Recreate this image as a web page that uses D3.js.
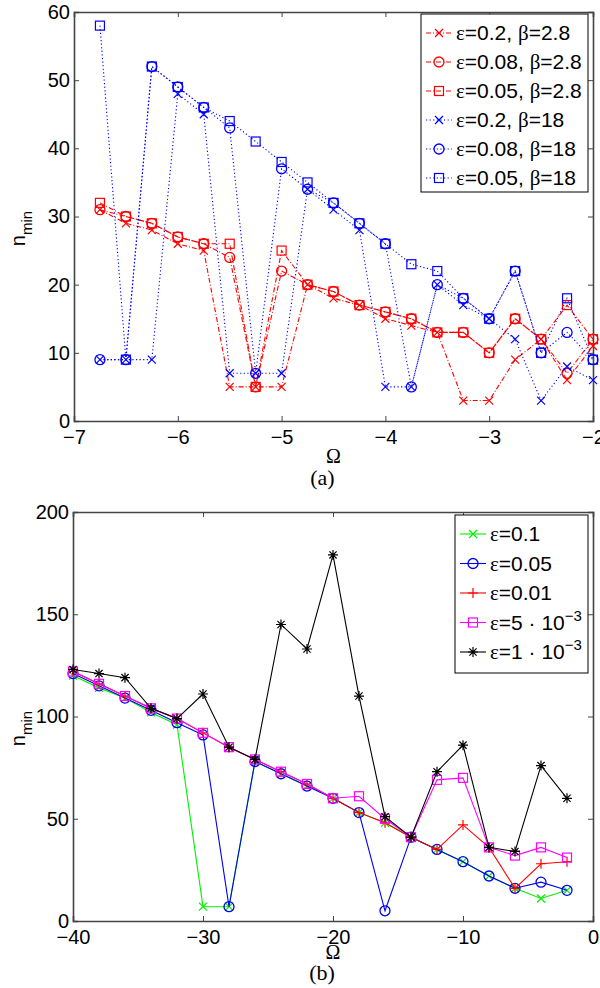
<!DOCTYPE html>
<html>
<head>
<meta charset="utf-8">
<script src="https://cdn.jsdelivr.net/npm/d3@7"></script>
<style>
  body { margin: 0; background: #fff; }
  svg { display: block; font-family: "Liberation Sans", Arial, sans-serif; }
</style>
</head>
<body>
<svg id="chart" width="600" height="988"></svg>
<script>
// panel (a): Omega grid and n_min per series
const omegaA = [-6.75, -6.5, -6.25, -6, -5.75, -5.5, -5.25, -5, -4.75, -4.5, -4.25, -4, -3.75, -3.5, -3.25, -3, -2.75, -2.5, -2.25, -2];
const redX   = [31, 29, 28, 26, 25, 5, 5, 5, 20, 18, 17, 15, 14, 13, 3, 3, 9, 12, 6, 11];
const redO   = [31, 30, 29, 27, 26, 24, 5, 22, 20, 19, 17, 16, 15, 13, 13, 10, 15, 12, 7, 12];
const redSq  = [32, 30, 29, 27, 26, 26, 5, 25, 20, 19, 17, 16, 15, 13, 13, 10, 15, 12, 17, 12];
const blueX  = [9, 9, 9, 48, 45, 7, 7, 7, 34, 31, 28, 5, 5, 20, 17, 15, 12, 3, 8, 6];
const blueO  = [9, 9, 52, 49, 46, 43, 7, 37, 34, 32, 29, 26, 5, 20, 18, 15, 22, 10, 13, 9];
const blueSq = [58, 9, 52, 49, 46, 44, 41, 38, 35, 32, 29, 26, 23, 22, 18, 15, 22, 10, 18, 9];
const labelsA = [["0.2", "2.8"], ["0.08", "2.8"], ["0.05", "2.8"], ["0.2", "18"], ["0.08", "18"], ["0.05", "18"]];
const ticksAx = [-7, -6, -5, -4, -3, -2];
const ticksAy = [0, 10, 20, 30, 40, 50, 60];

// panel (b)
const omegaB = [-40, -38, -36, -34, -32, -30, -28, -26, -24, -22, -20, -18, -16, -14, -12, -10, -8, -6, -4, -2];
const eps01   = [120, 114, 109, 102, 96, 7, 7, 78, 72, 66, 60, 53, 48, 41, 35, 29, 22, 16, 11, 15];
const eps005  = [121, 115, 109, 103, 97, 91, 7, 78, 72, 66, 60, 53, 5, 41, 35, 29, 22, 16, 19, 15];
const eps001  = [122, 116, 110, 104, 99, 92, 85, 79, 73, 67, 60, 53, 48, 41, 35, 47, 36, 16, 28, 29];
const eps5e3  = [122, 116, 110, 104, 99, 92, 85, 79, 73, 67, 60, 61, 50, 41, 69, 70, 36, 32, 36, 31];
const eps1e3  = [123, 121, 119, 104, 99, 111, 85, 79, 145, 133, 179, 110, 51, 41, 73, 86, 36, 34, 76, 60];
const labelsB = ["0.1", "0.05", "0.01", "5e-3", "1e-3"];
const ticksBx = [-40, -30, -20, -10, 0];
const ticksBy = [0, 50, 100, 150, 200];

const svg = d3.select('#chart');

// marker shapes
function marker(g, type, x, y, color) {
  const s = 4;
  if (type === 'x') {
    g.append('path').attr('d', `M${x-s},${y-s}L${x+s},${y+s}M${x-s},${y+s}L${x+s},${y-s}`)
      .attr('stroke', color).attr('stroke-width', 1.2).attr('fill', 'none');
  } else if (type === 'o') {
    g.append('circle').attr('cx', x).attr('cy', y).attr('r', 5)
      .attr('stroke', color).attr('stroke-width', 1.3).attr('fill', 'none');
  } else if (type === 's') {
    g.append('rect').attr('x', x-4.5).attr('y', y-4.5).attr('width', 9).attr('height', 9)
      .attr('stroke', color).attr('stroke-width', 1.2).attr('fill', 'none');
  } else if (type === '+') {
    g.append('path').attr('d', `M${x-5},${y}L${x+5},${y}M${x},${y-5}L${x},${y+5}`)
      .attr('stroke', color).attr('stroke-width', 1.2).attr('fill', 'none');
  } else if (type === '*') {
    g.append('path').attr('d', `M${x-5},${y}L${x+5},${y}M${x},${y-5}L${x},${y+5}M${x-3.6},${y-3.6}L${x+3.6},${y+3.6}M${x-3.6},${y+3.6}L${x+3.6},${y-3.6}`)
      .attr('stroke', color).attr('stroke-width', 1.2).attr('fill', 'none');
  }
}

function drawPanel(o) {
  const x = d3.scaleLinear().domain(o.xDomain).range([o.left, o.right]);
  const y = d3.scaleLinear().domain(o.yDomain).range([o.bottom, o.top]);
  const g = svg.append('g');

  const axisColor = '#444';
  const fmt = d => d3.format('d')(d).replace('-', '\u2212');
  // bottom / left with labels, top / right without
  g.append('g').attr('transform', `translate(0,${o.bottom})`)
    .call(d3.axisBottom(x).tickValues(o.xTicks).tickSize(-5).tickPadding(9).tickFormat(fmt));
  g.append('g').attr('transform', `translate(0,${o.top})`)
    .call(d3.axisTop(x).tickValues(o.xTicks).tickSize(-5).tickFormat(''));
  g.append('g').attr('transform', `translate(${o.left},0)`)
    .call(d3.axisLeft(y).tickValues(o.yTicks).tickSize(-5).tickPadding(4).tickFormat(fmt));
  g.append('g').attr('transform', `translate(${o.right},0)`)
    .call(d3.axisRight(y).tickValues(o.yTicks).tickSize(-5).tickFormat(''));
  g.selectAll('.domain').attr('stroke', axisColor).attr('stroke-width', 1.6);
  g.selectAll('.tick line').attr('stroke', axisColor).attr('stroke-width', 1);
  g.selectAll('.tick text').attr('font-size', 20).attr('fill', '#000')
    .attr('font-family', '"Liberation Sans", Arial, sans-serif');

  const line = d3.line().x((d, i) => x(o.xs[i])).y(d => y(d));
  o.series.forEach(s => {
    g.append('path').datum(s.values).attr('d', line)
      .attr('fill', 'none').attr('stroke', s.color).attr('stroke-width', 1.1)
      .attr('stroke-dasharray', s.dash || null);
    const mg = g.append('g');
    s.values.forEach((v, i) => marker(mg, s.marker, x(o.xs[i]), y(v), s.color));
  });

  // y label n_min
  const yl = g.append('text').attr('transform', `translate(${o.yLabelX},${(o.top + o.bottom) / 2 + 12}) rotate(-90)`)
    .attr('font-size', 20).attr('text-anchor', 'middle');
  yl.append('tspan').text('n');
  yl.append('tspan').attr('font-size', 15).attr('dy', 7).text('min');

  // Omega and panel caption
  const cx = (o.left + o.right) / 2;
  g.append('text').attr('x', cx).attr('y', o.bottom + o.omegaDy).attr('text-anchor', 'middle')
    .attr('font-family', '"Liberation Serif", "Times New Roman", serif').attr('font-size', 20).text('\u03A9');
  g.append('text').attr('x', cx - 11).attr('y', o.bottom + o.captionDy).attr('text-anchor', 'middle')
    .attr('font-family', '"Liberation Serif", "Times New Roman", serif').attr('font-size', 22).text(o.caption);

  // legend
  const L = o.legend;
  g.append('rect').attr('x', L.x).attr('y', L.y).attr('width', L.w).attr('height', L.h)
    .attr('fill', '#fff').attr('stroke', '#000').attr('stroke-width', 1);
  o.series.forEach((s, i) => {
    const ry = L.y + L.first + i * L.step;
    g.append('line').attr('x1', L.x + 5).attr('x2', L.x + L.lineW).attr('y1', ry).attr('y2', ry)
      .attr('stroke', s.color).attr('stroke-width', 1.1).attr('stroke-dasharray', s.dash || null);
    marker(g, s.marker, L.x + 5 + (L.lineW - 5) / 2, ry, s.color);
    const t = g.append('text').attr('x', L.x + L.lineW + 4).attr('y', ry + 7).attr('font-size', 21);
    s.label(t);
  });
}

const greek = t => t.append('tspan').attr('font-family', '"Liberation Serif", "Times New Roman", serif');

const redDash = '5,2,1,2';
const blueDash = '1.2,2.4';
const aMarkers = ['x', 'o', 's', 'x', 'o', 's'];
const aValues = [redX, redO, redSq, blueX, blueO, blueSq];
drawPanel({
  xDomain: [-7, -2], yDomain: [0, 60], left: 74, right: 593, top: 12, bottom: 421,
  xTicks: ticksAx, yTicks: ticksAy, xs: omegaA, yLabelX: 25, caption: '(a)',
  omegaDy: 42, captionDy: 64,
  series: aValues.map((vals, i) => ({
    values: vals, marker: aMarkers[i],
    color: i < 3 ? '#ff0000' : '#0000ff',
    dash: i < 3 ? redDash : blueDash,
    label: t => {
      greek(t).text('\u03B5');
      t.append('tspan').text('=' + labelsA[i][0] + ', ');
      greek(t).text('\u03B2');
      t.append('tspan').text('=' + labelsA[i][1]);
    }
  })),
  legend: { x: 421, y: 14, w: 167, h: 178, first: 19, step: 29, lineW: 31 }
});

const bValues = [eps01, eps005, eps001, eps5e3, eps1e3];
const bColors = ['#00f000', '#0000ee', '#ff0000', '#ff00ff', '#000000'];
const bMarkers = ['x', 'o', '+', 's', '*'];
drawPanel({
  xDomain: [-40, 0], yDomain: [0, 200], left: 73, right: 593, top: 512, bottom: 921,
  xTicks: ticksBx, yTicks: ticksBy, xs: omegaB, yLabelX: 25, caption: '(b)',
  omegaDy: 38, captionDy: 59,
  series: bValues.map((vals, i) => ({
    values: vals, marker: bMarkers[i], color: bColors[i],
    label: t => {
      greek(t).text('\u03B5');
      const lb = labelsB[i];
      if (lb.includes('e')) {
        t.append('tspan').text('=' + lb.split('e')[0] + ' \u00B7 10');
        t.append('tspan').attr('font-size', 15).attr('dy', -9).text('\u2212' + lb.split('-')[1]);
      } else {
        t.append('tspan').text('=' + lb);
      }
    }
  })),
  legend: { x: 455, y: 515, w: 133, h: 158, first: 19, step: 29.5, lineW: 31 }
});
</script>
</body>
</html>
